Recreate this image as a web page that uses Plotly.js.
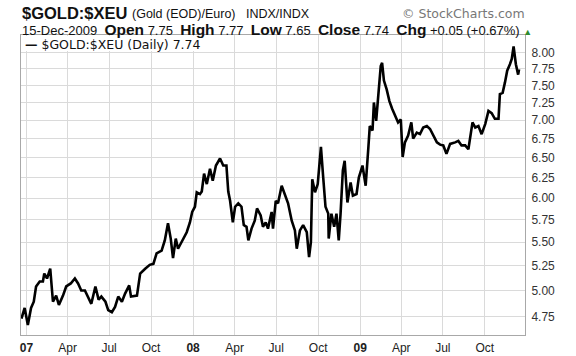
<!DOCTYPE html>
<html>
<head>
<meta charset="utf-8">
<script src="https://cdn.plot.ly/plotly-3.0.1.min.js"></script>
<style>html,body{margin:0;padding:0;background:#fff;}#chart{width:576px;height:356px;}</style>
</head>
<body>
<div id="chart"></div>
<script>
// ---- data ----
const dates = [
'2006-12-21','2006-12-28','2007-01-04','2007-01-11','2007-01-17','2007-01-22','2007-01-30','2007-02-06','2007-02-09','2007-02-15',
'2007-02-22','2007-02-28','2007-03-07','2007-03-13','2007-03-22','2007-03-29','2007-04-08','2007-04-17','2007-04-24','2007-05-01',
'2007-05-09','2007-05-16','2007-05-23','2007-06-01','2007-06-08','2007-06-14','2007-06-23','2007-06-29','2007-07-07','2007-07-14',
'2007-07-21','2007-07-29','2007-08-05','2007-08-14','2007-08-18','2007-08-31','2007-09-07','2007-09-18','2007-09-28','2007-10-06',
'2007-10-13','2007-10-24','2007-10-31','2007-11-07','2007-11-13','2007-11-18','2007-11-24','2007-11-29','2007-12-08','2007-12-18',
'2007-12-25','2007-12-30','2008-01-05','2008-01-09','2008-01-16','2008-01-20','2008-01-25','2008-01-31','2008-02-07','2008-02-13',
'2008-02-20','2008-02-29','2008-03-07','2008-03-14','2008-03-18','2008-03-22','2008-03-28','2008-04-02','2008-04-09','2008-04-16',
'2008-04-21','2008-04-27','2008-05-01','2008-05-08','2008-05-15','2008-05-20','2008-05-28','2008-06-02','2008-06-08','2008-06-13',
'2008-06-21','2008-06-24','2008-06-30','2008-07-05','2008-07-13','2008-07-20','2008-07-27','2008-08-04','2008-08-11','2008-08-15',
'2008-08-22','2008-08-29','2008-09-06','2008-09-11','2008-09-15','2008-09-18','2008-09-24','2008-09-30','2008-10-03','2008-10-07',
'2008-10-12','2008-10-17','2008-10-23','2008-10-24','2008-10-30','2008-11-05','2008-11-10','2008-11-15','2008-11-19','2008-11-24',
'2008-11-28','2008-12-04','2008-12-11','2008-12-16','2008-12-24','2008-12-29','2009-01-06','2009-01-13','2009-01-19','2009-01-22',
'2009-01-28','2009-01-31','2009-02-05','2009-02-10','2009-02-15','2009-02-18','2009-02-22','2009-02-28','2009-03-06','2009-03-12',
'2009-03-18','2009-03-25','2009-03-31','2009-04-04','2009-04-09','2009-04-16','2009-04-23','2009-04-27','2009-05-05','2009-05-12',
'2009-05-19','2009-05-27','2009-06-03','2009-06-10','2009-06-18','2009-06-25','2009-07-02','2009-07-09','2009-07-17','2009-07-28',
'2009-08-04','2009-08-11','2009-08-19','2009-08-26','2009-09-04','2009-09-10','2009-09-17','2009-09-24','2009-10-02','2009-10-09',
'2009-10-16','2009-10-23','2009-10-31','2009-11-03','2009-11-09','2009-11-14','2009-11-19','2009-11-25','2009-11-29','2009-12-03',
'2009-12-08','2009-12-13','2009-12-15'
];
const closes = [
4.73,4.83,4.67,4.83,4.89,5.04,5.09,5.09,5.17,5.12,
5.22,4.89,4.95,4.86,4.95,5.04,5.07,5.12,5.07,5.00,
5.00,4.94,4.87,5.04,4.91,4.94,4.89,4.81,4.79,4.84,
4.94,4.89,4.97,5.05,4.94,4.95,5.17,5.22,5.26,5.27,
5.38,5.41,5.52,5.71,5.54,5.33,5.54,5.43,5.52,5.61,
5.72,5.84,5.90,6.07,6.05,6.08,6.30,6.17,6.36,6.21,
6.40,6.49,6.40,6.40,6.08,5.97,5.72,5.90,5.94,5.90,
5.69,5.67,5.52,5.65,5.74,5.88,5.80,5.67,5.72,5.65,
5.84,5.65,5.97,5.94,6.15,6.05,5.94,5.74,5.63,5.43,
5.63,5.69,5.61,5.34,5.50,6.23,6.07,6.17,6.34,6.64,
6.25,5.90,5.82,5.54,5.82,5.67,5.82,5.52,5.82,6.34,
6.46,5.95,6.19,6.03,6.05,6.25,6.40,6.15,6.64,6.92,
6.86,7.25,6.99,7.42,7.79,7.84,7.57,7.44,7.27,7.16,
7.06,6.97,7.01,6.51,6.70,6.79,6.97,6.75,6.83,6.81,
6.90,6.92,6.88,6.79,6.70,6.67,6.66,6.55,6.68,6.70,
6.72,6.66,6.66,6.61,6.97,6.90,6.92,6.81,6.95,7.13,
7.10,7.02,7.02,7.37,7.39,7.54,7.72,7.82,7.90,8.10,
7.82,7.66,7.74
];
const yTicks = [4.75,5.00,5.25,5.50,5.75,6.00,6.25,6.50,6.75,7.00,7.25,7.50,7.75,8.00];
const xTickDates = ['2007-01-01','2007-04-01','2007-07-01','2007-10-01','2008-01-01','2008-04-01','2008-07-01','2008-10-01','2009-01-01','2009-04-01','2009-07-01','2009-10-01'];
const xTickText = ['<b>07</b>','Apr','Jul','Oct','<b>08</b>','Apr','Jul','Oct','<b>09</b>','Apr','Jul','Oct'];

// header text pieces ("&#36;" is "$", written as an entity so it is not read as TeX)
const symbol = '&#36;GOLD:&#36;XEU';
const quoteDate = '15-Dec-2009';
const quoteLabels = ['Open','High','Low','Close','Chg'];
const quoteValues = ['7.75','7.77','7.65','7.74','+0.05 (+0.67%)'];

// ---- layout helpers (pixel -> paper) ----
const L = 21, R = 525, T = 35, B = 335, W = 576, H = 356;
const px = x => (x - L) / (R - L);
const py = y => (B - y) / (B - T);

const trace = {
  x: dates, y: closes, type: 'scatter', mode: 'lines',
  line: {color: '#000', width: 2.6}, hoverinfo: 'skip', showlegend: false
};

const SANS = 'Liberation Sans, Arial, sans-serif';
const big = t => '<span style="font-size:15.5px"><b>' + t + '</b></span>';
let line2 = quoteDate + '&nbsp;&nbsp;';
quoteLabels.forEach((t, i) => {
  line2 += big(t) + '&nbsp;' + quoteValues[i] + (i < quoteLabels.length - 1 ? '&nbsp;&nbsp;' : '&nbsp;');
});
line2 += '<span style="color:#2e8b2e;font-size:9px">▲</span>';

const txt = (x, y, text, font, extra) => Object.assign({
  xref: 'paper', yref: 'paper', x: px(x), y: py(y), xanchor: 'left', yanchor: 'middle',
  align: 'left', showarrow: false, text: text, font: font
}, extra || {});

const layout = {
  width: W, height: H,
  margin: {l: L, r: W - R, t: T, b: H - B, pad: 0},
  paper_bgcolor: '#fff', plot_bgcolor: '#fff',
  font: {family: SANS, color: '#222', size: 11},
  xaxis: {
    type: 'date', range: ['2006-12-20', '2009-12-28'],
    tickvals: xTickDates, ticktext: xTickText, ticks: '',
    showgrid: true, gridcolor: '#dadada', gridwidth: 1,
    showline: true, mirror: true, linecolor: '#a8a8a8', linewidth: 1,
    zeroline: false, tickfont: {size: 12, color: '#222'}, ticklabelstandoff: 2
  },
  yaxis: {
    type: 'log', side: 'right',
    range: [Math.log10(4.579), Math.log10(8.284)],
    tickvals: yTicks, ticktext: yTicks.map(v => v.toFixed(2)), ticks: '',
    showgrid: true, gridcolor: '#dadada', gridwidth: 1,
    showline: true, mirror: true, linecolor: '#a8a8a8', linewidth: 1,
    zeroline: false, tickfont: {size: 12, color: '#333'}, ticklabelstandoff: 3
  },
  shapes: [
    {type: 'rect', xref: 'paper', yref: 'paper', x0: px(L + 1), x1: px(215), y0: py(51), y1: py(T + 1),
     fillcolor: '#fff', line: {width: 0}, layer: 'above'}
  ],
  annotations: [
    txt(20, 13, '<b>' + symbol + '</b>', {size: 16.5, color: '#111', family: SANS}),
    txt(130, 14, '(Gold (EOD)/Euro)', {size: 12.5, color: '#111', family: SANS}),
    txt(244, 14, 'INDX/INDX', {size: 12.5, color: '#111', family: SANS}),
    txt(527, 13.5, '© StockCharts.com', {size: 12.5, color: '#777', family: 'DejaVu Sans, sans-serif'}, {xanchor: 'right', align: 'right'}),
    txt(20, 29.5, line2, {size: 13, color: '#111', family: SANS}),
    txt(23, 44, '<b>—</b> ' + symbol + ' (Daily) 7.74', {size: 12.5, color: '#111', family: 'DejaVu Sans, sans-serif'})
  ]
};

Plotly.newPlot('chart', [trace], layout, {staticPlot: true, displayModeBar: false});
</script>
</body>
</html>
